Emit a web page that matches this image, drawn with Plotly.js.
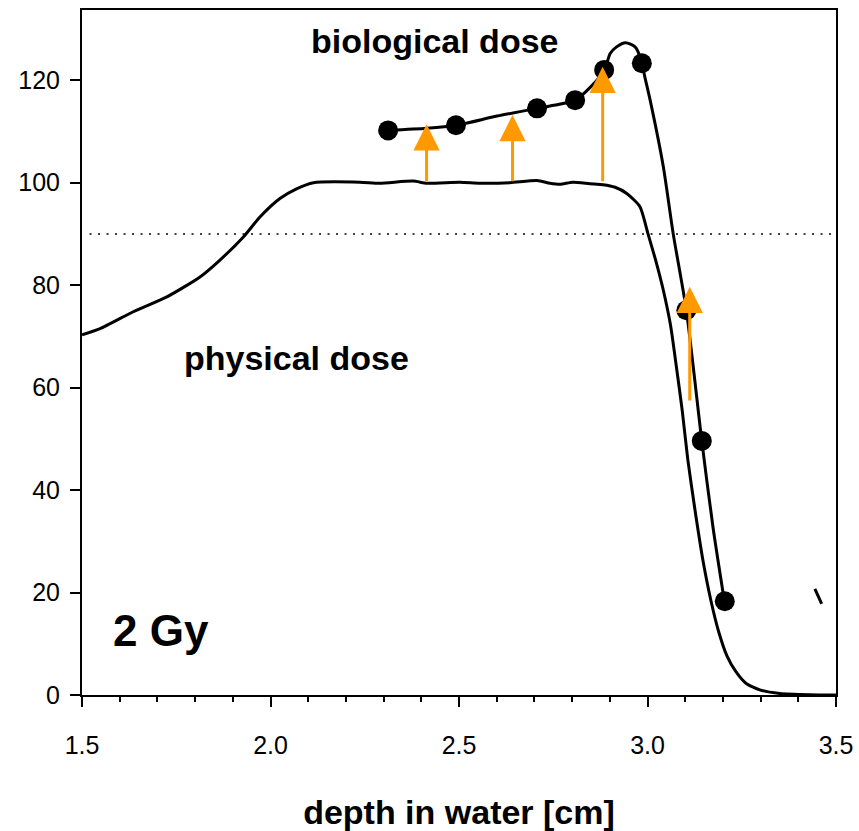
<!DOCTYPE html>
<html>
<head>
<meta charset="utf-8">
<script src="https://cdn.plot.ly/plotly-3.0.1.min.js"></script>
<style>
  html, body { margin: 0; padding: 0; background: #ffffff; }
  #chart { width: 859px; height: 831px; }
</style>
</head>
<body>
<div id="chart"></div>
<script>
// ---- data ----
var physX = [1.500, 1.548, 1.636, 1.725, 1.813, 1.866, 1.928, 1.972, 2.025, 2.069, 2.114,
             2.237, 2.290, 2.378, 2.415, 2.503, 2.556, 2.635, 2.707, 2.741, 2.768, 2.802,
             2.847, 2.882, 2.914, 2.945, 2.980, 3.001, 3.023, 3.042, 3.061, 3.076, 3.092,
             3.107, 3.126, 3.147, 3.168, 3.189, 3.211, 3.235, 3.261, 3.298, 3.351, 3.431,
             3.500];
var physY = [70.3, 71.5, 74.8, 77.7, 81.6, 84.9, 89.4, 93.3, 96.9, 98.8, 100.0,
             100.1, 99.9, 100.3, 99.9, 100.1, 99.9, 100.0, 100.4, 99.9, 99.7, 100.1,
             99.8, 99.6, 99.1, 97.9, 95.3, 90.1, 84.5, 79.0, 72.2, 64.4, 55.6,
             45.9, 36.1, 26.3, 18.5, 12.3, 7.6, 4.5, 2.3, 1.0, 0.3, 0.06,
             0.0];

var bioCurveX = [2.312, 2.415, 2.492, 2.601, 2.707, 2.808, 2.848, 2.886, 2.901, 2.918, 2.942,
                 2.967, 2.983, 2.993, 3.007, 3.042, 3.068, 3.103, 3.144, 3.174, 3.204];
var bioCurveY = [110.2, 110.6, 111.2, 113.0, 114.5, 116.1, 118.6, 122.0, 125.2, 126.5, 127.3,
                 126.5, 124.0, 120.6, 116.1, 103.1, 90.1, 75.1, 49.6, 32.6, 18.3];

var bioPointX = [2.312, 2.492, 2.707, 2.808, 2.885, 2.985, 3.103, 3.144, 3.205];
var bioPointY = [110.2, 111.2, 114.5, 116.1, 122.0, 123.3, 75.1, 49.6, 18.3];

var arrowX    = [2.414, 2.642, 2.881, 3.112];
var arrowTail = [100.0, 100.0, 100.0, 57.2];
var arrowTip  = [111.4, 113.2, 122.6, 79.7];

var refLevel = 90;           // dotted 90 % line
var refStart = 1.52;

var strayX = [3.444, 3.462];
var strayY = [20.7, 17.8];

var xTickVals = [1.5, 2.0, 2.5, 3.0, 3.5];
var xTickText = ["1.5", "2.0", "2.5", "3.0", "3.5"];
var yTickVals = [0, 20, 40, 60, 80, 100, 120];

var labelBio  = "biological dose";
var labelPhys = "physical dose";
var labelGy   = "2 Gy";
var xTitle    = "depth in water [cm]";

// ---- styling ----
var FONT = "Liberation Sans, Arial, Helvetica, sans-serif";
var ORANGE = "#FF9900";

var traces = [
  {
    x: physX, y: physY, type: "scatter", mode: "lines",
    line: { color: "#000000", width: 3, shape: "spline", smoothing: 0.6 },
    name: "physical dose", hoverinfo: "skip", showlegend: false
  },
  {
    x: bioCurveX, y: bioCurveY, type: "scatter", mode: "lines",
    line: { color: "#000000", width: 3, shape: "spline", smoothing: 0.7 },
    name: "biological dose curve", hoverinfo: "skip", showlegend: false
  },
  {
    x: bioPointX, y: bioPointY, type: "scatter", mode: "markers",
    marker: { color: "#000000", size: 20, symbol: "circle" },
    name: "biological dose", showlegend: false
  },
  {
    x: strayX, y: strayY, type: "scatter", mode: "lines",
    line: { color: "#000000", width: 3 },
    hoverinfo: "skip", showlegend: false
  }
];

var annotations = [];
for (var i = 0; i < arrowX.length; i++) {
  annotations.push({
    x: arrowX[i], y: arrowTip[i], xref: "x", yref: "y",
    ax: arrowX[i], ay: arrowTail[i], axref: "x", ayref: "y",
    text: "", showarrow: true, arrowhead: 2, arrowsize: 1.75,
    arrowwidth: 3, arrowcolor: ORANGE, standoff: 0, startstandoff: 0
  });
}
annotations.push({
  x: 2.434, y: 127.6, xref: "x", yref: "y", text: "<b>" + labelBio + "</b>",
  showarrow: false, xanchor: "center", yanchor: "middle",
  font: { family: FONT, size: 34, color: "#000000" }
});
annotations.push({
  x: 2.070, y: 65.8, xref: "x", yref: "y", text: "<b>" + labelPhys + "</b>",
  showarrow: false, xanchor: "center", yanchor: "middle",
  font: { family: FONT, size: 34, color: "#000000" }
});
annotations.push({
  x: 1.578, y: 12.5, xref: "x", yref: "y", text: "<b>" + labelGy + "</b>",
  showarrow: false, xanchor: "left", yanchor: "middle",
  font: { family: FONT, size: 44, color: "#000000" }
});

var layout = {
  width: 859, height: 831,
  margin: { l: 82, r: 23, t: 10, b: 136, pad: 0 },
  paper_bgcolor: "#ffffff", plot_bgcolor: "#ffffff",
  showlegend: false,
  font: { family: FONT, color: "#000000" },
  xaxis: {
    range: [1.5, 3.5], tickvals: xTickVals, ticktext: xTickText,
    ticks: "outside", ticklen: 10, tickwidth: 2, tickcolor: "#000000",
    minor: { dtick: 0.1, tick0: 1.5, ticks: "outside", ticklen: 5, tickwidth: 2, tickcolor: "#000000", showgrid: false },
    showline: true, linewidth: 2, linecolor: "#000000", mirror: true,
    showgrid: false, zeroline: false,
    tickfont: { family: FONT, size: 25, color: "#000000" },
    ticklabelstandoff: 17,
    title: { text: "<b>" + xTitle + "</b>", font: { family: FONT, size: 34, color: "#000000" }, standoff: 42 }
  },
  yaxis: {
    range: [0, 133.7], tickvals: yTickVals,
    ticks: "outside", ticklen: 10, tickwidth: 2, tickcolor: "#000000",
    showline: true, linewidth: 2, linecolor: "#000000", mirror: true,
    showgrid: false, zeroline: false,
    tickfont: { family: FONT, size: 25, color: "#000000" },
    ticklabelstandoff: 5
  },
  shapes: [
    {
      type: "line", xref: "x", yref: "y", x0: refStart, x1: 3.5, y0: refLevel, y1: refLevel,
      line: { color: "#000000", width: 1.5, dash: "2px,6.5px" }, layer: "below"
    }
  ],
  annotations: annotations
};

Plotly.newPlot("chart", traces, layout, { displayModeBar: false, staticPlot: true });
</script>
</body>
</html>
